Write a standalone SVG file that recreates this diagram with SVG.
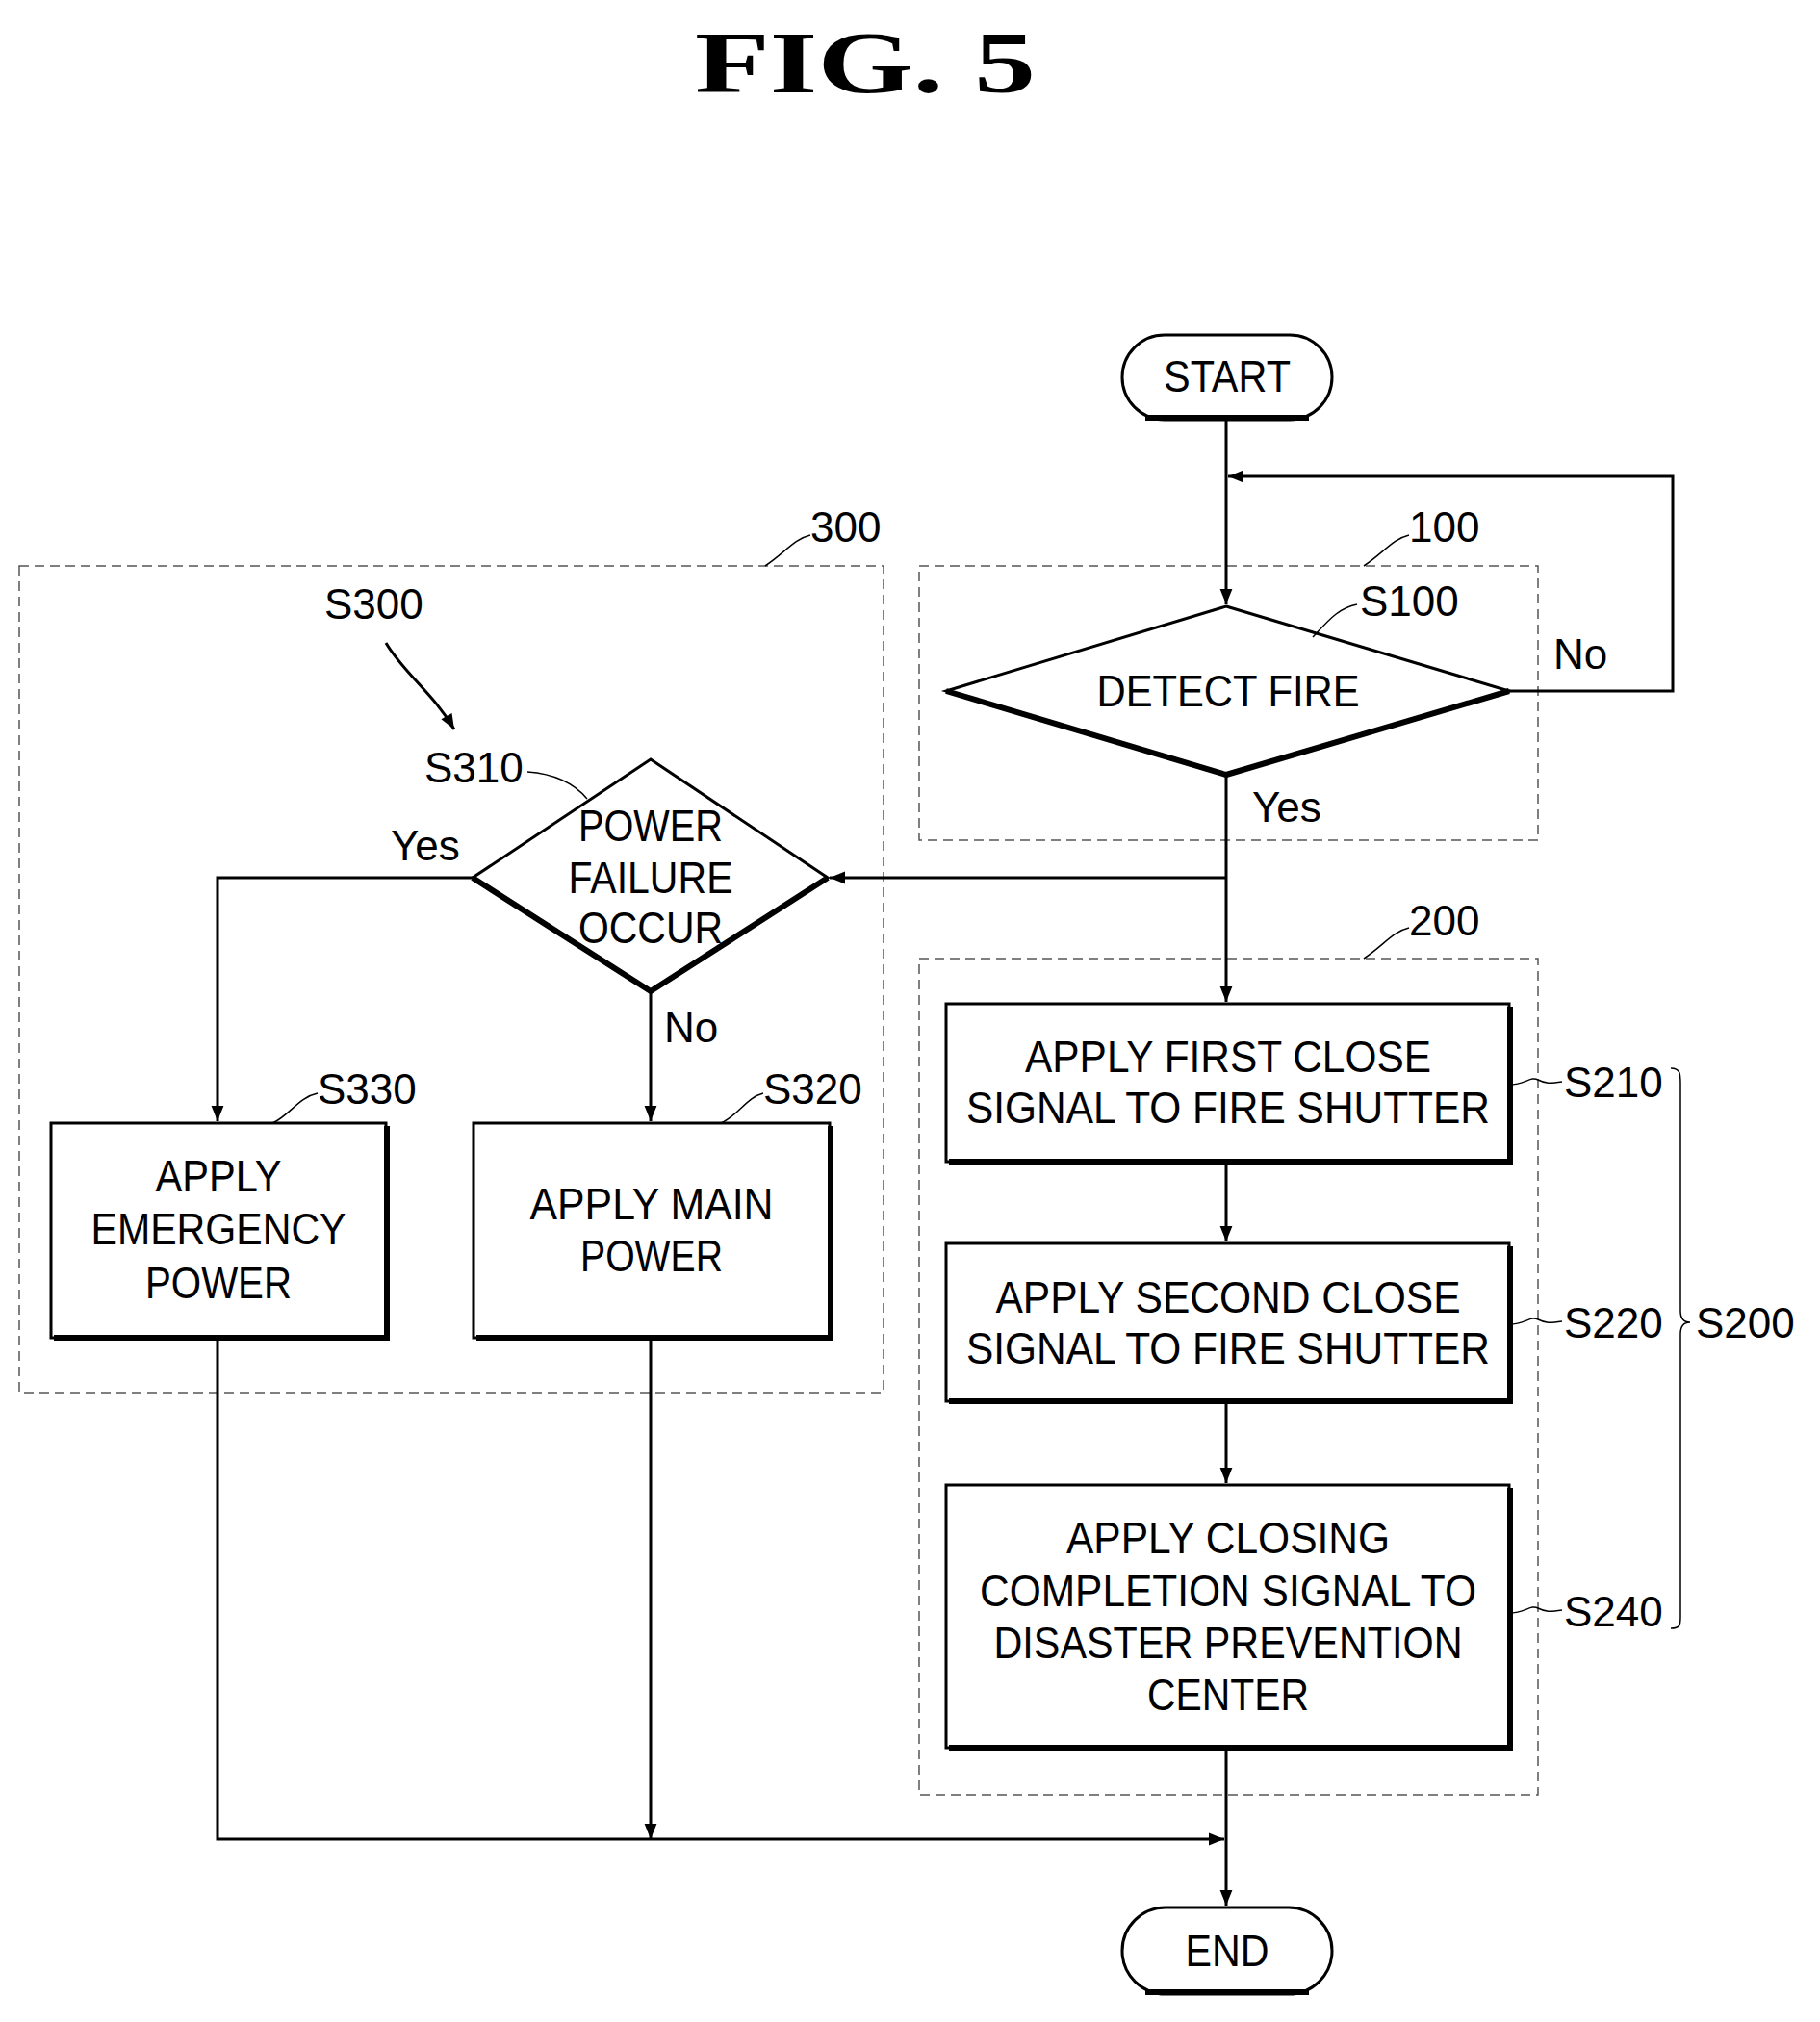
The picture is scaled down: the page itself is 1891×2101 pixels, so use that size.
<svg xmlns="http://www.w3.org/2000/svg" width="1891" height="2101" viewBox="0 0 1891 2101">
<defs>
<marker id="ar" viewBox="0 0 10 10" refX="10" refY="5" markerWidth="28" markerHeight="16" markerUnits="userSpaceOnUse" orient="auto"><path d="M0,1 L10,5 L0,9 z" fill="#000"/></marker>
<style>
text{font-family:"Liberation Sans",Arial,sans-serif;font-size:46px;fill:#000}
.c{text-anchor:middle}
.lbl{font-size:44px}
.box{fill:#fff;stroke:#000;stroke-width:3}
.sh{stroke:#000;stroke-width:6;fill:none}
.ln{stroke:#000;stroke-width:3;fill:none}
.th{stroke:#000;stroke-width:1.5;fill:none}
.dash{stroke:#555;stroke-width:1.5;fill:none;stroke-dasharray:10,6}
</style>
</defs>
<rect width="1891" height="2101" fill="#fff"/>
<text x="899" y="96" class="c" style="font-family:'Liberation Serif',serif;font-size:92px;font-weight:bold" textLength="354" lengthAdjust="spacingAndGlyphs">FIG.  5</text>

<g id="groups">
<rect x="20" y="588" width="898" height="859" class="dash"/>
<rect x="955" y="588" width="643" height="285" class="dash"/>
<rect x="955" y="996" width="643" height="869" class="dash"/>
<path d="M795,588 C815,575 825,560 842,556" class="th"/><text x="842" y="563" class="lbl">300</text>
<path d="M1417,588 C1437,575 1447,560 1464,556" class="th"/><text x="1464" y="563" class="lbl">100</text>
<path d="M1417,996 C1437,983 1447,968 1464,964" class="th"/><text x="1464" y="972" class="lbl">200</text>
</g>

<g id="connectors">
<line x1="1274" y1="436" x2="1274" y2="628" class="ln" marker-end="url(#ar)"/>
<polyline points="1568,718 1738,718 1738,495 1276,495" class="ln" marker-end="url(#ar)"/>
<line x1="1274" y1="805" x2="1274" y2="1041" class="ln" marker-end="url(#ar)"/>
<line x1="1274" y1="912" x2="862" y2="912" class="ln" marker-end="url(#ar)"/>
<polyline points="491,912 226,912 226,1165" class="ln" marker-end="url(#ar)"/>
<line x1="676" y1="1030" x2="676" y2="1165" class="ln" marker-end="url(#ar)"/>
<line x1="1274" y1="1207" x2="1274" y2="1290" class="ln" marker-end="url(#ar)"/>
<line x1="1274" y1="1456" x2="1274" y2="1541" class="ln" marker-end="url(#ar)"/>
<line x1="1274" y1="1816" x2="1274" y2="1980" class="ln" marker-end="url(#ar)"/>
<polyline points="226,1390 226,1911 1272,1911" class="ln" marker-end="url(#ar)"/>
<line x1="676" y1="1390" x2="676" y2="1911" class="ln" marker-end="url(#ar)"/>
<path d="M401,668 C420,700 450,720 472,758" class="ln" stroke-width="2" marker-end="url(#ar)"/>
</g>

<g id="start"><rect x="1166" y="348" width="218" height="88" rx="44" class="box"/><path d="M1190,434 H1360" class="sh"/><text x="1275" y="407" class="c" textLength="132" lengthAdjust="spacingAndGlyphs">START</text></g>
<g id="end"><rect x="1166" y="1982" width="218" height="90" rx="45" class="box"/><path d="M1190,2070 H1360" class="sh"/><text x="1275" y="2043" class="c" textLength="87" lengthAdjust="spacingAndGlyphs">END</text></g>

<g id="S100">
<polygon points="1274,630 1568,718 1274,805 983,718" class="box"/>
<path d="M983,718 L1274,805 L1568,718" class="sh"/>
<text x="1276" y="734" class="c" textLength="273" lengthAdjust="spacingAndGlyphs">DETECT FIRE</text>
<path d="M1364,662 C1380,645 1390,632 1410,628" class="th"/><text x="1413" y="640" class="lbl">S100</text>
<text x="1614" y="695" class="lbl">No</text>
<text x="1301" y="854" class="lbl">Yes</text>
</g>

<g id="S310">
<polygon points="676,789 860,912 676,1030 491,912" class="box"/>
<path d="M491,912 L676,1030 L860,912" class="sh"/>
<text x="676" y="874" class="c" textLength="150" lengthAdjust="spacingAndGlyphs">POWER</text><text x="676" y="928" class="c" textLength="171" lengthAdjust="spacingAndGlyphs">FAILURE</text><text x="676" y="980" class="c" textLength="150" lengthAdjust="spacingAndGlyphs">OCCUR</text>
<text x="337" y="643" class="lbl">S300</text>
<text x="441" y="813" class="lbl">S310</text>
<path d="M548,802 C575,804 595,812 610,830" class="th"/>
<text x="406" y="894" class="lbl">Yes</text>
<text x="690" y="1083" class="lbl">No</text>
</g>

<g id="S330">
<rect x="53" y="1167" width="348" height="223" class="box"/><path d="M56,1390 H402 V1170" class="sh"/>
<text x="227" y="1238" class="c" textLength="131" lengthAdjust="spacingAndGlyphs">APPLY</text><text x="227" y="1293" class="c" textLength="265" lengthAdjust="spacingAndGlyphs">EMERGENCY</text><text x="227" y="1349" class="c" textLength="152" lengthAdjust="spacingAndGlyphs">POWER</text>
<path d="M283,1167 C300,1160 310,1140 330,1136" class="th"/><text x="330" y="1147" class="lbl">S330</text>
</g>
<g id="S320">
<rect x="492" y="1167" width="370" height="223" class="box"/><path d="M495,1390 H863 V1170" class="sh"/>
<text x="677" y="1267" class="c" textLength="253" lengthAdjust="spacingAndGlyphs">APPLY MAIN</text><text x="677" y="1321" class="c" textLength="148" lengthAdjust="spacingAndGlyphs">POWER</text>
<path d="M749,1167 C766,1160 776,1140 793,1136" class="th"/><text x="793" y="1147" class="lbl">S320</text>
</g>

<g id="S210">
<rect x="983" y="1043" width="585" height="164" class="box"/><path d="M986,1207 H1569 V1046" class="sh"/>
<text x="1276" y="1114" class="c" textLength="422" lengthAdjust="spacingAndGlyphs">APPLY FIRST CLOSE</text><text x="1276" y="1167" class="c" textLength="544" lengthAdjust="spacingAndGlyphs">SIGNAL TO FIRE SHUTTER</text>
<path d="M1568,1127 C1585,1127 1590,1118 1598,1122 S1610,1126 1623,1124" class="th"/><text x="1625" y="1140" class="lbl">S210</text>
</g>
<g id="S220">
<rect x="983" y="1292" width="585" height="164" class="box"/><path d="M986,1456 H1569 V1295" class="sh"/>
<text x="1276" y="1364" class="c" textLength="483" lengthAdjust="spacingAndGlyphs">APPLY SECOND CLOSE</text><text x="1276" y="1417" class="c" textLength="544" lengthAdjust="spacingAndGlyphs">SIGNAL TO FIRE SHUTTER</text>
<path d="M1568,1376 C1585,1376 1590,1367 1598,1371 S1610,1375 1623,1373" class="th"/><text x="1625" y="1390" class="lbl">S220</text>
</g>
<g id="S240">
<rect x="983" y="1543" width="585" height="273" class="box"/><path d="M986,1816 H1569 V1546" class="sh"/>
<text x="1276" y="1614" class="c" textLength="336" lengthAdjust="spacingAndGlyphs">APPLY CLOSING</text><text x="1276" y="1669" class="c" textLength="516" lengthAdjust="spacingAndGlyphs">COMPLETION SIGNAL TO</text><text x="1276" y="1723" class="c" textLength="487" lengthAdjust="spacingAndGlyphs">DISASTER PREVENTION</text><text x="1276" y="1777" class="c" textLength="168" lengthAdjust="spacingAndGlyphs">CENTER</text>
<path d="M1568,1676 C1585,1676 1590,1667 1598,1671 S1610,1675 1623,1673" class="th"/><text x="1625" y="1690" class="lbl">S240</text>
</g>
<g id="S200">
<path d="M1736,1110 C1746,1110 1746,1116 1746,1126 V1362 C1746,1370 1750,1374 1756,1374 C1750,1374 1746,1378 1746,1386 V1680 C1746,1688 1746,1692 1736,1692" class="th"/>
<text x="1762" y="1390" class="lbl">S200</text>
</g>
</svg>
